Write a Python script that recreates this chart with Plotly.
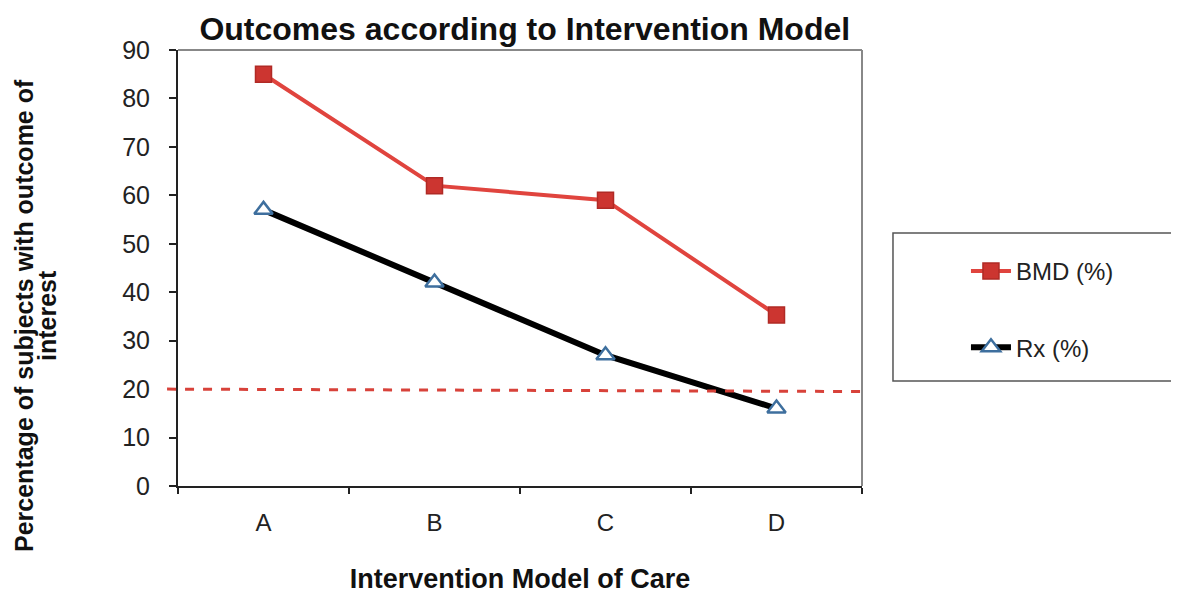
import plotly.graph_objects as go

categories = ["A", "B", "C", "D"]
bmd_values = [85, 62, 59, 35.3]
rx_values = [57, 42, 27, 16]
threshold_start = 20
threshold_end = 19.5
y_ticks = [0, 10, 20, 30, 40, 50, 60, 70, 80, 90]

FONT = "Liberation Sans, Arial, sans-serif"

fig = go.Figure()
fig.add_trace(go.Scatter(
    x=categories, y=bmd_values, name="BMD (%)", mode="lines+markers",
    line=dict(color="#E0443E", width=4),
    marker=dict(symbol="square", size=16, color="#CC3530",
                line=dict(color="#B02A25", width=1.5)),
    legendgroup="bmd",
))
fig.add_trace(go.Scatter(
    x=categories, y=rx_values, name="Rx (%)", mode="lines+markers",
    line=dict(color="#000000", width=6),
    marker=dict(symbol="triangle-up", size=16, color="#FFFFFF",
                line=dict(color="#3E6F9E", width=2.5)),
    legendgroup="rx",
))

# dashed threshold line, slightly extending left of the axis
fig.add_shape(type="line", xref="paper", yref="y",
              x0=-0.016, x1=1.0, y0=threshold_start, y1=threshold_end,
              line=dict(color="#D8423A", width=3, dash="dash"), layer="above")

# legend box
fig.add_shape(type="rect", xref="paper", yref="paper",
              x0=1.0453, x1=1.6, y0=0.2408, y1=0.580,
              line=dict(color="#555555", width=1.5), fillcolor="rgba(0,0,0,0)")

# gray top and right border of plot area
fig.add_shape(type="line", xref="paper", yref="paper", x0=0, x1=1, y0=1, y1=1,
              line=dict(color="#888888", width=2))
fig.add_shape(type="line", xref="paper", yref="paper", x0=1, x1=1, y0=0, y1=1,
              line=dict(color="#888888", width=2))

# y-axis title (two lines, tight line spacing)
fig.add_annotation(text="<b>Percentage of subjects with outcome of</b>",
                   xref="paper", yref="paper", x=-0.2251, y=0.39,
                   xanchor="center", yanchor="middle", textangle=-90,
                   showarrow=False, font=dict(family=FONT, size=25, color="#111111"))
fig.add_annotation(text="<b>interest</b>",
                   xref="paper", yref="paper", x=-0.1915, y=0.39,
                   xanchor="center", yanchor="middle", textangle=-90,
                   showarrow=False, font=dict(family=FONT, size=25, color="#111111"))

fig.update_layout(
    width=1171, height=586,
    margin=dict(l=170, r=317, t=42, b=108, autoexpand=False),
    paper_bgcolor="white", plot_bgcolor="white",
    font=dict(family=FONT, color="#111111", size=24),
    title=dict(text="<b>Outcomes according to Intervention Model</b>",
               x=0.507, xref="paper", xanchor="center",
               y=1.0, yref="paper", yanchor="bottom", pad=dict(b=10),
               font=dict(family=FONT, size=32, color="#111111")),
    showlegend=True,
    legend=dict(x=1.152, xanchor="left", y=0.405, yanchor="middle",
                bgcolor="rgba(0,0,0,0)", borderwidth=0,
                font=dict(family=FONT, size=24, color="#222222"),
                tracegroupgap=42, itemwidth=40),
    xaxis=dict(
        type="category", categoryorder="array", categoryarray=categories,
        range=[-0.5, 3.5], tickson="boundaries", automargin=False,
        ticks="outside", ticklen=6, tickcolor="#222222", tickwidth=1.5,
        showline=True, linecolor="#222222", linewidth=2, mirror=False,
        showgrid=False, zeroline=False,
        tickfont=dict(family=FONT, size=24, color="#222222"),
        ticklabelstandoff=14,
        title=dict(text="<b>Intervention Model of Care</b>", standoff=40,
                   font=dict(family=FONT, size=27, color="#111111")),
    ),
    yaxis=dict(
        range=[0, 90], tickvals=y_ticks, automargin=False,
        ticks="outside", ticklen=7, tickcolor="#222222", tickwidth=1.5,
        showline=True, linecolor="#222222", linewidth=2,
        showgrid=False, zeroline=False,
        tickfont=dict(family=FONT, size=25, color="#222222"),
        ticklabelstandoff=14,
    ),
)

fig.write_html("out.html")
